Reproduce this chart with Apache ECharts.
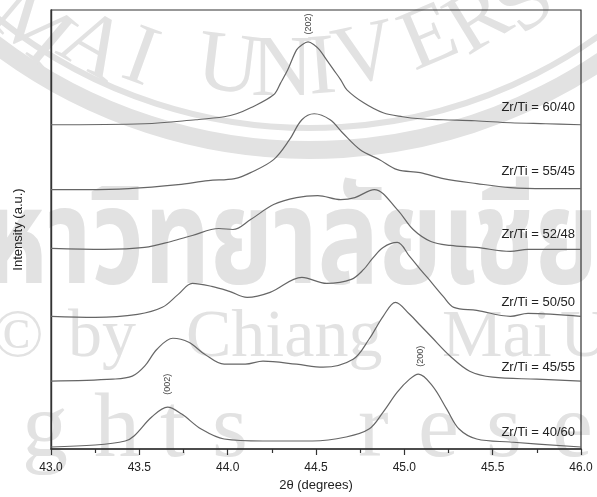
<!DOCTYPE html>
<html>
<head>
<meta charset="utf-8">
<script src="https://cdn.jsdelivr.net/npm/echarts@6/dist/echarts.min.js"></script>
<style>
  html, body { margin: 0; padding: 0; background: #fff; }
  #chart { width: 597px; height: 497px; }
</style>
</head>
<body>
<div id="chart"></div>
<script>
// XRD patterns of PZT ceramics, offset vertically (intensity in arbitrary units)
const twoTheta6040 = [43.00, 43.53, 43.82, 43.98, 44.05, 44.13, 44.26, 44.30, 44.34, 44.39, 44.42, 44.455, 44.49, 44.52, 44.56, 44.60, 44.64, 44.675, 44.77, 44.88, 44.99, 45.09, 45.22, 45.40, 45.60, 45.80, 46.00];
const int6040 =      [325, 326, 330, 333, 336, 342, 355, 367, 380, 400, 405, 408, 405, 400, 390, 380, 370, 360, 347, 337, 333, 331, 330, 329, 327, 326, 325];

const twoTheta5545 = [43.00, 43.20, 43.44, 43.72, 43.89, 44.04, 44.13, 44.26, 44.35, 44.42, 44.49, 44.58, 44.65, 44.75, 44.86, 44.96, 45.09, 45.22, 45.41, 45.60, 45.80, 46.00];
const int5545 =      [260, 260, 261, 265, 269, 271, 277, 290, 310, 330, 336, 330, 317, 300, 290, 280, 277, 271, 266, 262, 261, 261];

const twoTheta5248 = [43.00, 43.30, 43.53, 43.68, 43.80, 43.95, 44.03, 44.13, 44.26, 44.39, 44.51, 44.64, 44.72, 44.83, 44.96, 45.05, 45.15, 45.26, 45.41, 45.60, 45.70, 46.00];
const int5248 =      [201, 200, 202, 208, 214, 221, 220, 230, 245, 252, 254, 250, 252, 260, 240, 220, 208, 204, 202, 198, 200, 200];

const twoTheta5050 = [43.00, 43.25, 43.49, 43.63, 43.72, 43.80, 43.91, 44.01, 44.11, 44.24, 44.42, 44.56, 44.70, 44.77, 44.82, 44.88, 44.96, 45.03, 45.09, 45.13, 45.22, 45.28, 45.41, 45.60, 45.70, 46.00];
const int5050 =      [133, 132, 135, 142, 155, 166, 163, 158, 152, 157, 172, 166, 170, 180, 191, 202, 207, 193, 180, 172, 153, 142, 139, 133, 136, 133];

const twoTheta4555 = [43.00, 43.35, 43.46, 43.53, 43.60, 43.69, 43.78, 43.87, 43.98, 44.10, 44.20, 44.39, 44.54, 44.71, 44.80, 44.88, 44.95, 45.03, 45.09, 45.15, 45.26, 45.37, 45.50, 45.75, 46.00];
const int4555 =      [68, 70, 73, 83, 100, 111, 107, 95, 85, 85, 88, 85, 82, 90, 110, 133, 147, 135, 124, 113, 93, 78, 72, 70, 68];

const twoTheta4060 = [43.00, 43.25, 43.42, 43.47, 43.57, 43.66, 43.74, 43.85, 43.98, 44.20, 44.48, 44.67, 44.80, 44.88, 44.96, 45.03, 45.08, 45.16, 45.24, 45.31, 45.41, 45.60, 46.00];
const int4060 =      [2, 4, 8, 13, 32, 42, 35, 20, 10, 8, 8, 12, 20, 37, 57, 70, 75, 63, 40, 20, 10, 7, 2];

const compositions = ['Zr/Ti = 60/40', 'Zr/Ti = 55/45', 'Zr/Ti = 52/48', 'Zr/Ti = 50/50', 'Zr/Ti = 45/55', 'Zr/Ti = 40/60'];
const xTicks = ['43.0', '43.5', '44.0', '44.5', '45.0', '45.5', '46.0'];

// Miller-index annotations: position (2θ) and height where each is written
const hklLabels = ['(202)', '(002)', '(200)'];
const hklTheta = [44.46, 43.66, 45.09];
const hklHeight = [426, 65, 93];

const patternX = [twoTheta6040, twoTheta5545, twoTheta5248, twoTheta5050, twoTheta4555, twoTheta4060];
const patternY = [int6040, int5545, int5248, int5050, int4555, int4060];

const chart = echarts.init(document.getElementById('chart'), null, { renderer: 'canvas' });

const series = compositions.map((name, i) => ({
  name: name,
  type: 'line',
  data: patternX[i].map((t, k) => [t, patternY[i][k]]),
  symbol: 'none',
  smooth: 0.35,
  lineStyle: { color: '#666666', width: 1.2 },
  z: 3
}));

// Faint background watermark
const wmColor = '#e2e2e2';
const wmSerif = '"Liberation Serif", "DejaVu Serif", serif';
const arcLetters = [
  ['M', 30, 28, -0.70], ['A', 92, 48, -0.52], ['I', 140, 60, -0.35],
  ['U', 228, 68, -0.12], ['N', 282, 72, 0.0], ['I', 322, 70, 0.08],
  ['V', 366, 58, 0.22], ['E', 430, 40, 0.40], ['R', 480, 22, 0.55], ['S', 526, 4, 0.70]
];
const watermark = [];
watermark.push({
  type: 'arc', z: -10, silent: true,
  shape: { cx: 310, cy: -370, r: 520, startAngle: Math.PI * 0.1, endAngle: Math.PI * 0.9 },
  style: { stroke: wmColor, lineWidth: 18, fill: null }
});
watermark.push({
  type: 'arc', z: -10, silent: true,
  shape: { cx: 310, cy: -370, r: 498, startAngle: Math.PI * 0.1, endAngle: Math.PI * 0.9 },
  style: { stroke: wmColor, lineWidth: 6, fill: null }
});
arcLetters.forEach(([ch, x, y, rot]) => {
  watermark.push({
    type: 'text', z: -10, silent: true, x: x, y: y, rotation: rot,
    style: { text: ch, fill: wmColor, font: '86px ' + wmSerif, align: 'center', verticalAlign: 'middle' }
  });
});
watermark.push({
  type: 'text', z: -10, silent: true, x: -82, y: 256, scaleY: 1.3,
  style: { text: 'มหาวิทยาลัยเชียงใหม่', fill: wmColor, font: 'bold 102px "Noto Sans Thai", "Noto Sans", "DejaVu Sans", sans-serif', align: 'left', verticalAlign: 'middle' }
});
[['©', -8], ['by', 68], ['Chiang', 186], ['Mai', 442], ['U', 560]].forEach(([t, x]) => {
  watermark.push({
    type: 'text', z: -10, silent: true, x: x, y: 304,
    style: { text: t, fill: wmColor, font: '68px ' + wmSerif, align: 'left', verticalAlign: 'top' }
  });
});
[['g', 22], ['h', 94], ['t', 160], ['s', 212], ['r', 358], ['e', 418], ['s', 486], ['e', 552]].forEach(([t, x]) => {
  watermark.push({
    type: 'text', z: -10, silent: true, x: x, y: 386,
    style: { text: t, fill: wmColor, font: '92px ' + wmSerif, align: 'left', verticalAlign: 'top' }
  });
});

// Composition labels at the right end of each pattern
const labelY = [107, 171, 234, 302, 367, 432];
const compLabels = compositions.map((t, i) => ({
  type: 'text', z: 20, silent: true, x: 575, y: labelY[i],
  style: { text: t, fill: '#222', font: '13px "Liberation Sans", Arial, sans-serif', align: 'right', verticalAlign: 'middle' }
}));

const option = {
  backgroundColor: '#ffffff',
  animation: false,
  grid: { left: 51, right: 16, top: 10, bottom: 48, show: true, borderColor: '#333', borderWidth: 1.2, backgroundColor: 'transparent' },
  xAxis: {
    type: 'value', min: 43, max: 46, interval: 0.5,
    name: '2θ (degrees)', nameLocation: 'middle', nameGap: 29,
    nameTextStyle: { color: '#222', fontSize: 13, fontFamily: '"Liberation Sans", Arial, sans-serif' },
    axisLine: { show: true, lineStyle: { color: '#333', width: 1.6 } },
    axisTick: { show: true, inside: false, length: 6, lineStyle: { color: '#333', width: 1.2 } },
    minorTick: { show: true, splitNumber: 2, length: 4, lineStyle: { color: '#333', width: 1.2 } },
    splitLine: { show: false },
    axisLabel: {
      color: '#222', fontSize: 12, margin: 13, fontFamily: '"Liberation Sans", Arial, sans-serif',
      formatter: v => xTicks[Math.round((v - 43) / 0.5)] || ''
    }
  },
  yAxis: {
    type: 'value', min: 0, max: 440,
    name: 'Intensity (a.u.)', nameLocation: 'middle', nameGap: 26,
    nameTextStyle: { color: '#222', fontSize: 13, fontFamily: '"Liberation Sans", Arial, sans-serif' },
    axisLine: { show: true, lineStyle: { color: '#333', width: 1.4 } },
    axisTick: { show: false },
    axisLabel: { show: false },
    splitLine: { show: false }
  },
  series: series,
  graphic: watermark.concat(compLabels)
};

chart.setOption(option);

// Peak indices written vertically above the reflections
const hklGraphics = hklLabels.map((t, i) => {
  const p = chart.convertToPixel({ xAxisIndex: 0, yAxisIndex: 0 }, [hklTheta[i], hklHeight[i]]);
  return {
    type: 'text', z: 20, silent: true, x: p[0], y: p[1], rotation: Math.PI / 2,
    style: { text: t, fill: '#444', font: '9px "Liberation Sans", Arial, sans-serif', align: 'center', verticalAlign: 'middle' }
  };
});
chart.setOption({ graphic: watermark.concat(compLabels, hklGraphics) }, { replaceMerge: ['graphic'] });
</script>
</body>
</html>
